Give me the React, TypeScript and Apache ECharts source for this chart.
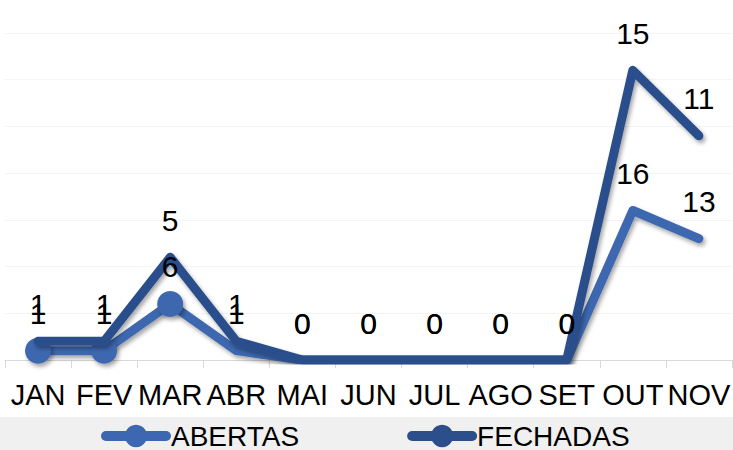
import React, { useEffect, useRef } from "react";
import * as echarts from "echarts";

const categories = ["JAN", "FEV", "MAR", "ABR", "MAI", "JUN", "JUL", "AGO", "SET", "OUT", "NOV"];
const abertas = [1, 1, 6, 1, 0, 0, 0, 0, 0, 16, 13];
const fechadas = [1, 1, 5, 1, 0, 0, 0, 0, 0, 15, 11];
const abertasMarked = [true, true, true, false, false, false, false, false, false, false, false];

const FONT = "'Liberation Sans', Arial, sans-serif";
const C_AB = "#3D67B0";
const C_FE = "#2C4E8B";

export default function App() {
  const ref = useRef<HTMLDivElement>(null);
  useEffect(() => {
    if (!ref.current) return;
    const chart = echarts.init(ref.current, null, { renderer: "svg" });
    const shadow = {
      shadowColor: "rgba(0,0,0,0.35)",
      shadowBlur: 4,
      shadowOffsetX: 2,
      shadowOffsetY: 3,
    };
    const label = {
      show: true,
      position: "inside",
      offset: [0, -37],
      color: "#000",
      fontSize: 30,
      fontFamily: FONT,
    };
    chart.setOption({
      animation: false,
      backgroundColor: "#fff",
      graphic: [
        {
          type: "rect",
          z: -10,
          shape: { x: 0, y: 417, width: 733, height: 33 },
          style: { fill: "#f0f0f0" },
          silent: true,
        },
      ],
      legend: {
        left: 101,
        top: 422,
        itemWidth: 60,
        itemHeight: 28,
        itemGap: 108,
        padding: 0,
        lineStyle: { width: 10, cap: "round" },
        textStyle: { fontSize: 28, lineHeight: 22, color: "#000", fontFamily: FONT },
        data: ["ABERTAS", "FECHADAS"],
      },
      grid: { left: 5, right: -6, top: 33, bottom: 90, containLabel: false },
      xAxis: {
        type: "category",
        data: categories,
        boundaryGap: true,
        axisLine: { show: true, lineStyle: { color: "#d9d9d9", width: 1 } },
        axisTick: { show: true, length: 8, lineStyle: { color: "#d9d9d9" } },
        axisLabel: {
          interval: 0,
          margin: 20,
          fontSize: 29,
          color: "#000",
          fontFamily: FONT,
        },
      },
      yAxis: {
        type: "value",
        min: 0,
        max: 35,
        interval: 5,
        axisLabel: { show: false },
        axisLine: { show: false },
        axisTick: { show: false },
        splitLine: { show: true, lineStyle: { color: "#f4f4f4", width: 1 } },
      },
      series: [
        {
          name: "ABERTAS",
          type: "line",
          stack: "total",
          symbol: "circle",
          symbolSize: 0.1,
          showAllSymbol: true,
          data: abertas.map((v, i) => ({
            value: v,
            symbolSize: abertasMarked[i] ? 26 : 0.1,
          })),
          lineStyle: { color: C_AB, width: 9, cap: "round", join: "round", ...shadow },
          itemStyle: { color: C_AB, ...shadow },
          label: { show: false },
          z: 2,
        },
        {
          name: "FECHADAS",
          type: "line",
          stack: "total",
          symbol: "circle",
          symbolSize: 0.1,
          showAllSymbol: true,
          data: fechadas,
          lineStyle: { color: C_FE, width: 9, cap: "round", join: "round", ...shadow },
          itemStyle: { color: C_FE },
          label,
          z: 3,
        },
        {
          name: "ABERTAS rótulos",
          type: "line",
          symbol: "circle",
          symbolSize: 0.1,
          showAllSymbol: true,
          silent: true,
          data: abertas,
          lineStyle: { opacity: 0 },
          itemStyle: { opacity: 0 },
          label: { ...label, opacity: 1 },
          z: 4,
        },
      ],
    });
    return () => chart.dispose();
  }, []);
  return (
    <div
      ref={ref}
      style={{ position: "fixed", left: 0, top: 0, width: 733, height: 450 }}
    />
  );
}
